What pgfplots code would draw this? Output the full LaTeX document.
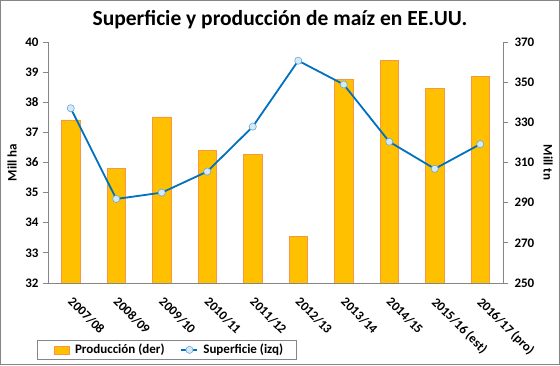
\documentclass[border=0pt]{standalone}
\usepackage{pgfplots}
\pgfplotsset{compat=1.18}
\usepackage{fontspec}
\setmainfont{Carlito}
\definecolor{barfill}{RGB}{255,192,0}
\definecolor{baredge}{RGB}{247,150,70}
\definecolor{lineblue}{RGB}{0,112,192}
\definecolor{mkfill}{RGB}{214,234,246}
\definecolor{axgray}{RGB}{134,134,134}
\pgfplotsset{linelegend/.style={legend image code/.code={\draw[mark repeat=2, mark phase=2, ##1] plot coordinates {(0pt,0pt) (8pt,0pt) (16pt,0pt)};}}}
\pgfplotstableread{
x prod sup
0 331.2 37.80
1 307.2 34.79
2 332.7 35.00
3 316.1 35.70
4 313.9 37.19
5 273.3 39.38
6 351.5 38.59
7 361.0 36.69
8 346.8 35.79
9 353.0 36.61
}\datatab
\begin{document}
\begin{tikzpicture}
\draw[axgray,line width=0.8pt] (0.4pt,0.4pt) rectangle (559.6pt,364.6pt);
\path[use as bounding box] (0pt,0pt) rectangle (560pt,365pt);
\node[font=\bfseries\fontsize{21.5}{24}\selectfont] at (280pt,345pt) {Superficie y producción de maíz en EE.UU.};
% bars on right axis
\begin{axis}[
  at={(48pt,82pt)}, anchor=south west,
  width=455pt, height=241pt, scale only axis,
  xmin=-0.5, xmax=9.5, ymin=250, ymax=370,
  axis x line=none,
  axis y line*=right,
  y axis line style={axgray, line width=0.8pt},
  ytick={250,270,...,370},
  ytick style={axgray, line width=0.8pt},
  major tick length=5pt, tick align=outside,
  /pgf/number format/assume math mode=true,
  yticklabel style={font=\bfseries\fontsize{13}{15}\selectfont, xshift=3pt},
  ylabel={Mill tn},
  ylabel style={font=\bfseries\fontsize{13}{15}\selectfont, rotate=180, anchor=center, at={(axis description cs:1.099,0.5)}},
  ybar=0pt, bar width=18.4pt,
]
\addplot[fill=barfill, draw=baredge, line width=0.7pt] table[x=x,y=prod] {\datatab};
\end{axis}
% line on left axis
\begin{axis}[
  at={(48pt,82pt)}, anchor=south west,
  width=455pt, height=241pt, scale only axis,
  xmin=-0.5, xmax=9.5, ymin=32, ymax=40,
  axis x line*=bottom, axis y line*=left,
  axis line style={axgray, line width=0.8pt},
  ytick={32,33,...,40},
  xtick={0,...,9},
  xticklabels={2007/08,2008/09,2009/10,2010/11,2011/12,2012/13,2013/14,2014/15,2015/16 (est),2016/17 (pro)},
  minor xtick={-0.5,0.5,...,9.5},
  major tick length=5pt, tick align=outside,
  xtick style={draw=none},
  minor tick length=5pt,
  minor tick style={axgray, line width=0.8pt},
  ytick style={axgray, line width=0.8pt},
  /pgf/number format/assume math mode=true,
  yticklabel style={font=\bfseries\fontsize{13}{15}\selectfont, xshift=-1pt},
  xticklabel style={font=\bfseries\fontsize{13}{15}\selectfont, rotate=-45, anchor=north west, xshift=4.5pt, yshift=0pt},
  ylabel={Mill ha},
  ylabel style={font=\bfseries\fontsize{13}{15}\selectfont, anchor=center, at={(axis description cs:-0.079,0.5)}},
  legend style={at={(axis description cs:-0.024,-0.2365)}, anchor=north west, draw=axgray, line width=0.6pt,
    font=\bfseries\fontsize{13}{15}\selectfont, legend columns=2,
    /tikz/every odd column/.append style={column sep=3pt},
    /tikz/every even column/.append style={column sep=14pt},
    inner xsep=4pt, inner ysep=2pt},
  legend cell align=left,
]
\addlegendimage{legend image code/.code={\path (-13pt,0pt); \draw[fill=barfill, draw=baredge, line width=0.7pt] (0pt,-4pt) rectangle (15pt,4pt);}}
\addlegendentry{Producción (der)}
\addplot[lineblue, line width=1.8pt, mark=*, mark size=3.6pt, mark options={fill=mkfill, draw=lineblue!60, line width=0.6pt}, linelegend] table[x=x,y=sup] {\datatab};
\addlegendentry{Superficie (izq)\hspace*{7pt}}
\end{axis}
\end{tikzpicture}
\end{document}
